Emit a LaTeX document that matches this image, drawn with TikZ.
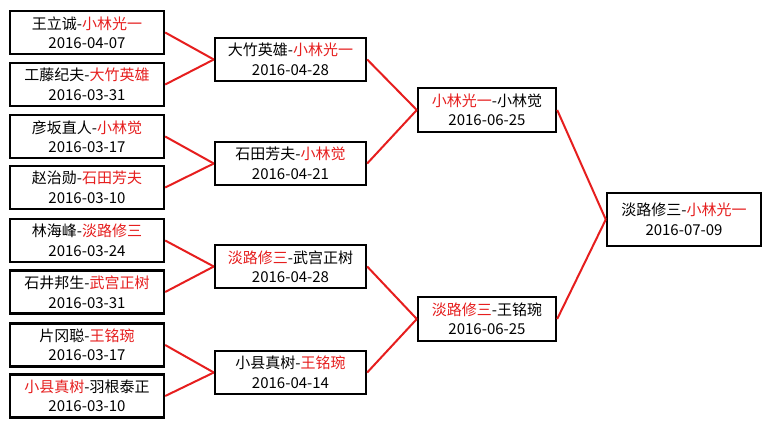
\documentclass[tikz,border=0pt]{standalone}
\usepackage{fontspec}
\setmainfont{Noto Sans CJK SC}
\usepackage{xcolor}
\definecolor{winred}{RGB}{230,30,30}
\usetikzlibrary{positioning}

\begin{document}
\begin{tikzpicture}[
    x=1pt, y=-1pt,
    game_node/.style={draw=black, line width=2.4pt, fill=white, minimum width=154pt, minimum height=43pt, inner sep=0pt, font=\fontsize{15}{19.5}\selectfont, align=center},
    quarter_node/.style={game_node, minimum width=151pt},
    semi_node/.style={game_node, minimum width=138pt, minimum height=44pt},
    final_node/.style={game_node, minimum height=53pt},
    link_line/.style={draw=winred, line width=2pt}
]
    \useasboundingbox (0,0) rectangle (771,429);

    % First Round
    \node[game_node] (R1a) at (87,32.5) {王立诚-\textcolor{winred}{小林光一}\\2016-04-07};
    \node[game_node] (R1b) at (87,84.5) {工藤纪夫-\textcolor{winred}{大竹英雄}\\2016-03-31};
    \node[game_node] (R1c) at (87,136.5) {彦坂直人-\textcolor{winred}{小林觉}\\2016-03-17};
    \node[game_node] (R1d) at (87,187.5) {赵治勋-\textcolor{winred}{石田芳夫}\\2016-03-10};
    \node[game_node] (R1e) at (87,240.5) {林海峰-\textcolor{winred}{淡路修三}\\2016-03-24};
    \node[game_node] (R1f) at (87,292) {石井邦生-\textcolor{winred}{武宫正树}\\2016-03-31};
    \node[game_node] (R1g) at (87,345) {片冈聪-\textcolor{winred}{王铭琬}\\2016-03-17};
    \node[game_node] (R1h) at (87,396) {\textcolor{winred}{小县真树}-羽根泰正\\2016-03-10};

    % Quarter Finals
    \node[quarter_node] (R2a) at (290.5,59.5) {大竹英雄-\textcolor{winred}{小林光一}\\2016-04-28};
    \node[quarter_node] (R2b) at (290.5,163.5) {石田芳夫-\textcolor{winred}{小林觉}\\2016-04-21};
    \node[quarter_node] (R2c) at (290.5,266.5) {\textcolor{winred}{淡路修三}-武宫正树\\2016-04-28};
    \node[quarter_node] (R2d) at (290.5,372.5) {小县真树-\textcolor{winred}{王铭琬}\\2016-04-14};

    % Semi Finals
    \node[semi_node] (R3a) at (487,110) {\textcolor{winred}{小林光一}-小林觉\\2016-06-25};
    \node[semi_node] (R3b) at (487,319) {\textcolor{winred}{淡路修三}-王铭琬\\2016-06-25};

    % Final
    \node[final_node] (R4) at (684,219.5) {淡路修三-\textcolor{winred}{小林光一}\\2016-07-09};

    % Bracket Links
    \path
        (R1a.east) edge[link_line] (R2a.west)
        (R1b.east) edge[link_line] (R2a.west)
        (R1c.east) edge[link_line] (R2b.west)
        (R1d.east) edge[link_line] (R2b.west)
        (R1e.east) edge[link_line] (R2c.west)
        (R1f.east) edge[link_line] (R2c.west)
        (R1g.east) edge[link_line] (R2d.west)
        (R1h.east) edge[link_line] (R2d.west)
        (R2a.east) edge[link_line] (R3a.west)
        (R2b.east) edge[link_line] (R3a.west)
        (R2c.east) edge[link_line] (R3b.west)
        (R2d.east) edge[link_line] (R3b.west)
        (R3a.east) edge[link_line] (R4.west)
        (R3b.east) edge[link_line] (R4.west);
\end{tikzpicture}
\end{document}
